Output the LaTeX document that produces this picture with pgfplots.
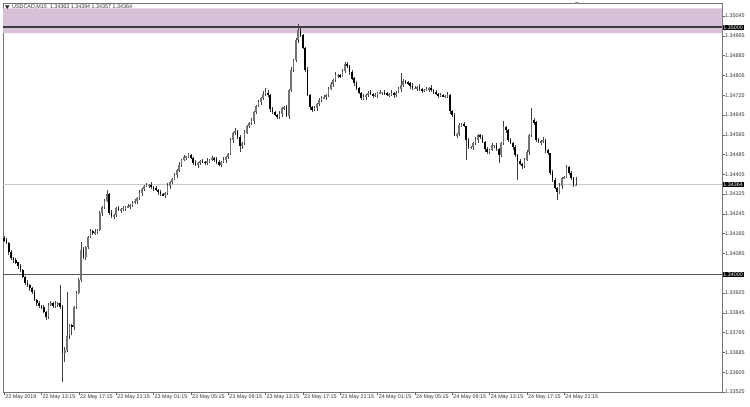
\documentclass[border=0pt]{standalone}
\usepackage{pgfplots}
\pgfplotsset{compat=1.18}
\usepackage{pgfplotstable}
\usepackage{fontspec}
\setmainfont{Liberation Sans}
\definecolor{zone}{RGB}{217,192,217}
\definecolor{lvl}{RGB}{60,60,60}
\definecolor{cur}{RGB}{200,200,200}
\pgfplotstableread{
x o h l c
0 1.34150 1.34155 1.34131 1.34139
1 1.34139 1.34148 1.34123 1.34127
2 1.34127 1.34131 1.34081 1.34091
3 1.34091 1.34102 1.34061 1.34067
4 1.34067 1.34073 1.34050 1.34059
5 1.34059 1.34067 1.34045 1.34050
6 1.34050 1.34053 1.34022 1.34034
7 1.34034 1.34044 1.34011 1.34018
8 1.34018 1.34025 1.33986 1.33990
9 1.33990 1.33995 1.33957 1.33966
10 1.33966 1.33978 1.33951 1.33957
11 1.33957 1.33963 1.33934 1.33945
12 1.33945 1.33950 1.33921 1.33929
13 1.33929 1.33938 1.33893 1.33897
14 1.33897 1.33901 1.33875 1.33885
15 1.33885 1.33896 1.33867 1.33873
16 1.33873 1.33879 1.33860 1.33869
17 1.33869 1.33877 1.33843 1.33848
18 1.33848 1.33851 1.33816 1.33828
19 1.33828 1.33887 1.33821 1.33877
20 1.33877 1.33892 1.33873 1.33885
21 1.33885 1.33890 1.33864 1.33873
22 1.33873 1.33893 1.33867 1.33881
23 1.33881 1.33891 1.33870 1.33885
24 1.33885 1.33957 1.33861 1.33869
25 1.33869 1.33878 1.33565 1.33683
26 1.33683 1.33706 1.33646 1.33695
27 1.33695 1.33929 1.33686 1.33751
28 1.33751 1.33800 1.33741 1.33796
29 1.33796 1.33801 1.33755 1.33788
30 1.33788 1.33872 1.33776 1.33869
31 1.33869 1.33935 1.33862 1.33925
32 1.33925 1.33985 1.33921 1.33978
33 1.33978 1.34131 1.33969 1.34099
34 1.34099 1.34111 1.34065 1.34071
35 1.34071 1.34117 1.34060 1.34111
36 1.34111 1.34157 1.34103 1.34152
37 1.34152 1.34185 1.34148 1.34176
38 1.34176 1.34180 1.34158 1.34168
39 1.34168 1.34183 1.34162 1.34172
40 1.34172 1.34186 1.34163 1.34180
41 1.34180 1.34257 1.34175 1.34249
42 1.34249 1.34276 1.34237 1.34273
43 1.34273 1.34307 1.34266 1.34297
44 1.34297 1.34342 1.34293 1.34325
45 1.34325 1.34330 1.34240 1.34249
46 1.34249 1.34261 1.34230 1.34236
47 1.34236 1.34246 1.34225 1.34240
48 1.34240 1.34274 1.34232 1.34269
49 1.34269 1.34278 1.34257 1.34261
50 1.34261 1.34269 1.34251 1.34265
51 1.34265 1.34280 1.34259 1.34269
52 1.34269 1.34279 1.34260 1.34273
53 1.34273 1.34285 1.34268 1.34277
54 1.34277 1.34284 1.34265 1.34281
55 1.34281 1.34299 1.34274 1.34289
56 1.34289 1.34304 1.34285 1.34297
57 1.34297 1.34314 1.34288 1.34309
58 1.34309 1.34341 1.34303 1.34329
59 1.34329 1.34352 1.34318 1.34346
60 1.34346 1.34363 1.34338 1.34358
61 1.34358 1.34371 1.34354 1.34362
62 1.34362 1.34366 1.34352 1.34362
63 1.34362 1.34373 1.34348 1.34354
64 1.34354 1.34360 1.34341 1.34350
65 1.34350 1.34358 1.34337 1.34342
66 1.34342 1.34345 1.34321 1.34333
67 1.34333 1.34343 1.34318 1.34325
68 1.34325 1.34332 1.34317 1.34321
69 1.34321 1.34334 1.34312 1.34329
70 1.34329 1.34370 1.34323 1.34358
71 1.34358 1.34380 1.34347 1.34374
72 1.34374 1.34391 1.34366 1.34386
73 1.34386 1.34411 1.34382 1.34402
74 1.34402 1.34426 1.34392 1.34422
75 1.34422 1.34454 1.34416 1.34443
76 1.34443 1.34469 1.34434 1.34463
77 1.34463 1.34483 1.34458 1.34475
78 1.34475 1.34482 1.34463 1.34479
79 1.34479 1.34493 1.34472 1.34483
80 1.34483 1.34490 1.34467 1.34471
81 1.34471 1.34476 1.34442 1.34451
82 1.34451 1.34463 1.34437 1.34443
83 1.34443 1.34457 1.34432 1.34451
84 1.34451 1.34464 1.34443 1.34459
85 1.34459 1.34468 1.34451 1.34455
86 1.34455 1.34459 1.34441 1.34451
87 1.34451 1.34470 1.34445 1.34459
88 1.34459 1.34469 1.34450 1.34463
89 1.34463 1.34479 1.34458 1.34471
90 1.34471 1.34474 1.34455 1.34467
91 1.34467 1.34477 1.34448 1.34455
92 1.34455 1.34462 1.34439 1.34443
93 1.34443 1.34460 1.34434 1.34455
94 1.34455 1.34475 1.34449 1.34463
95 1.34463 1.34481 1.34452 1.34475
96 1.34475 1.34492 1.34467 1.34487
97 1.34487 1.34553 1.34483 1.34544
98 1.34544 1.34576 1.34534 1.34572
99 1.34572 1.34591 1.34566 1.34580
100 1.34580 1.34586 1.34547 1.34556
101 1.34556 1.34564 1.34495 1.34519
102 1.34519 1.34535 1.34507 1.34532
103 1.34532 1.34582 1.34525 1.34572
104 1.34572 1.34607 1.34568 1.34600
105 1.34600 1.34617 1.34591 1.34612
106 1.34612 1.34633 1.34606 1.34621
107 1.34621 1.34663 1.34610 1.34657
108 1.34657 1.34686 1.34649 1.34681
109 1.34681 1.34706 1.34677 1.34697
110 1.34697 1.34718 1.34687 1.34714
111 1.34714 1.34741 1.34708 1.34730
112 1.34730 1.34753 1.34721 1.34738
113 1.34738 1.34746 1.34721 1.34726
114 1.34726 1.34729 1.34657 1.34669
115 1.34669 1.34679 1.34650 1.34657
116 1.34657 1.34664 1.34641 1.34645
117 1.34645 1.34650 1.34628 1.34637
118 1.34637 1.34661 1.34631 1.34649
119 1.34649 1.34679 1.34638 1.34673
120 1.34673 1.34682 1.34665 1.34677
121 1.34677 1.34686 1.34637 1.34641
122 1.34641 1.34750 1.34631 1.34746
123 1.34746 1.34838 1.34740 1.34827
124 1.34827 1.34873 1.34818 1.34867
125 1.34867 1.34956 1.34862 1.34948
126 1.34948 1.35015 1.34936 1.34988
127 1.34988 1.34998 1.34961 1.34968
128 1.34968 1.34975 1.34912 1.34916
129 1.34916 1.34921 1.34818 1.34827
130 1.34827 1.34839 1.34720 1.34726
131 1.34726 1.34732 1.34666 1.34677
132 1.34677 1.34682 1.34657 1.34665
133 1.34665 1.34682 1.34661 1.34673
134 1.34673 1.34693 1.34663 1.34689
135 1.34689 1.34716 1.34683 1.34705
136 1.34705 1.34720 1.34696 1.34714
137 1.34714 1.34726 1.34709 1.34718
138 1.34718 1.34729 1.34706 1.34726
139 1.34726 1.34760 1.34719 1.34750
140 1.34750 1.34777 1.34746 1.34770
141 1.34770 1.34791 1.34761 1.34786
142 1.34786 1.34818 1.34780 1.34806
143 1.34806 1.34812 1.34795 1.34806
144 1.34806 1.34811 1.34794 1.34802
145 1.34802 1.34832 1.34798 1.34823
146 1.34823 1.34859 1.34813 1.34851
147 1.34851 1.34862 1.34837 1.34843
148 1.34843 1.34849 1.34810 1.34819
149 1.34819 1.34827 1.34789 1.34794
150 1.34794 1.34797 1.34762 1.34774
151 1.34774 1.34784 1.34747 1.34754
152 1.34754 1.34761 1.34730 1.34734
153 1.34734 1.34739 1.34705 1.34714
154 1.34714 1.34730 1.34708 1.34718
155 1.34718 1.34732 1.34707 1.34726
156 1.34726 1.34743 1.34718 1.34738
157 1.34738 1.34747 1.34726 1.34730
158 1.34730 1.34734 1.34716 1.34726
159 1.34726 1.34737 1.34720 1.34726
160 1.34726 1.34740 1.34717 1.34734
161 1.34734 1.34746 1.34729 1.34738
162 1.34738 1.34741 1.34726 1.34738
163 1.34738 1.34748 1.34727 1.34734
164 1.34734 1.34741 1.34722 1.34726
165 1.34726 1.34735 1.34717 1.34730
166 1.34730 1.34746 1.34724 1.34734
167 1.34734 1.34740 1.34715 1.34726
168 1.34726 1.34743 1.34718 1.34738
169 1.34738 1.34759 1.34734 1.34750
170 1.34750 1.34815 1.34740 1.34766
171 1.34766 1.34793 1.34760 1.34782
172 1.34782 1.34788 1.34769 1.34778
173 1.34778 1.34786 1.34769 1.34774
174 1.34774 1.34777 1.34750 1.34762
175 1.34762 1.34772 1.34747 1.34754
176 1.34754 1.34761 1.34750 1.34754
177 1.34754 1.34763 1.34745 1.34758
178 1.34758 1.34770 1.34744 1.34750
179 1.34750 1.34756 1.34735 1.34746
180 1.34746 1.34751 1.34738 1.34746
181 1.34746 1.34759 1.34742 1.34750
182 1.34750 1.34758 1.34740 1.34754
183 1.34754 1.34765 1.34740 1.34746
184 1.34746 1.34752 1.34729 1.34738
185 1.34738 1.34746 1.34725 1.34730
186 1.34730 1.34733 1.34714 1.34726
187 1.34726 1.34736 1.34719 1.34726
188 1.34726 1.34733 1.34718 1.34722
189 1.34722 1.34727 1.34713 1.34722
190 1.34722 1.34738 1.34716 1.34726
191 1.34726 1.34732 1.34650 1.34661
192 1.34661 1.34666 1.34637 1.34645
193 1.34645 1.34654 1.34560 1.34564
194 1.34564 1.34572 1.34554 1.34568
195 1.34568 1.34615 1.34562 1.34604
196 1.34604 1.34614 1.34595 1.34608
197 1.34608 1.34616 1.34595 1.34600
198 1.34600 1.34603 1.34463 1.34544
199 1.34544 1.34554 1.34508 1.34515
200 1.34515 1.34522 1.34511 1.34515
201 1.34515 1.34537 1.34506 1.34532
202 1.34532 1.34556 1.34526 1.34544
203 1.34544 1.34570 1.34533 1.34564
204 1.34564 1.34569 1.34548 1.34556
205 1.34556 1.34565 1.34532 1.34536
206 1.34536 1.34540 1.34497 1.34507
207 1.34507 1.34518 1.34489 1.34495
208 1.34495 1.34509 1.34486 1.34503
209 1.34503 1.34531 1.34498 1.34523
210 1.34523 1.34526 1.34511 1.34523
211 1.34523 1.34533 1.34500 1.34507
212 1.34507 1.34514 1.34451 1.34483
213 1.34483 1.34537 1.34474 1.34532
214 1.34532 1.34620 1.34526 1.34596
215 1.34596 1.34602 1.34573 1.34584
216 1.34584 1.34589 1.34536 1.34544
217 1.34544 1.34553 1.34528 1.34532
218 1.34532 1.34536 1.34505 1.34515
219 1.34515 1.34526 1.34477 1.34483
220 1.34483 1.34489 1.34382 1.34459
221 1.34459 1.34467 1.34442 1.34447
222 1.34447 1.34450 1.34427 1.34439
223 1.34439 1.34473 1.34432 1.34463
224 1.34463 1.34502 1.34459 1.34495
225 1.34495 1.34569 1.34486 1.34564
226 1.34564 1.34673 1.34558 1.34625
227 1.34625 1.34631 1.34605 1.34616
228 1.34616 1.34621 1.34536 1.34544
229 1.34544 1.34553 1.34532 1.34536
230 1.34536 1.34544 1.34526 1.34540
231 1.34540 1.34555 1.34534 1.34544
232 1.34544 1.34550 1.34494 1.34503
233 1.34503 1.34511 1.34486 1.34491
234 1.34491 1.34494 1.34402 1.34414
235 1.34414 1.34424 1.34375 1.34382
236 1.34382 1.34389 1.34346 1.34350
237 1.34350 1.34355 1.34301 1.34333
238 1.34333 1.34370 1.34327 1.34358
239 1.34358 1.34396 1.34347 1.34390
240 1.34390 1.34399 1.34386 1.34394
241 1.34394 1.34444 1.34390 1.34435
242 1.34435 1.34439 1.34400 1.34410
243 1.34410 1.34421 1.34384 1.34390
244 1.34390 1.34396 1.34355 1.34363
245 1.34363 1.34394 1.34357 1.34364
}\candles
\begin{document}
\begin{tikzpicture}[x=1bp,y=1bp]
\useasboundingbox (0,0) rectangle (750,406);
\fill[white] (0,0) rectangle (750,406);
\begin{axis}[
  at={(3bp,13.3bp)}, anchor=south west,
  scale only axis, width=719bp, height=389.7bp,
  xmin=-0.5, xmax=307.6, ymin=1.33522, ymax=1.35098,
  clip mode=individual,
  axis line style={black!55, line width=0.7bp},
  tick align=outside, major tick length=2.5bp,
  tick style={black!60, line width=0.5bp},
  xtick pos=bottom, ytick pos=right,
  yticklabel pos=right,
  font=\fontsize{5.4}{6}\selectfont,
  xtick={0,16,...,240},
  xticklabels={22 May 2019,22 May 13:15,22 May 17:15,22 May 21:15,23 May 01:15,23 May 05:15,23 May 09:15,23 May 13:15,23 May 17:15,23 May 21:15,24 May 01:15,24 May 05:15,24 May 09:15,24 May 13:15,24 May 17:15,24 May 21:15},
  xticklabel style={anchor=north west, inner sep=0pt, xshift=1bp, yshift=0.5bp, text=black!80},
  ytick={1.33525,1.33605,1.33685,1.33765,1.33845,1.33925,1.34085,1.34165,1.34245,1.34325,1.34405,1.34485,1.34565,1.34645,1.34725,1.34805,1.34885,1.34965,1.35045},
  yticklabels={1.33525,1.33605,1.33685,1.33765,1.33845,1.33925,1.34085,1.34165,1.34245,1.34325,1.34405,1.34485,1.34565,1.34645,1.34725,1.34805,1.34885,1.34965,1.35045},
  yticklabel style={anchor=west, inner sep=0pt, xshift=0.5bp, text=black!80},
]
% resistance zone
\addplot[draw=none, fill=zone, forget plot] coordinates {(-0.5,1.34976) (307.6,1.34976) (307.6,1.35076) (-0.5,1.35076) (-0.5,1.34976)};
% levels
\addplot[lvl, line width=2bp, forget plot] coordinates {(-0.5,1.35) (307.6,1.35)};
\addplot[black!65, line width=1.2bp, forget plot] coordinates {(-0.5,1.34) (307.6,1.34)};
\addplot[cur, line width=0.7bp, forget plot] coordinates {(-0.5,1.34364) (307.6,1.34364)};
% wicks
\addplot[draw=none, mark=none, forget plot,
  error bars/.cd, y dir=both, y explicit, error mark=none,
  error bar style={line width=0.7bp, draw=black!75}]
  table[x=x, y expr={(\thisrow{h}+\thisrow{l})/2}, y error expr={(\thisrow{h}-\thisrow{l})/2}] {\candles};
% bull bodies
\addplot[draw=none, mark=none, forget plot,
  restrict expr to domain={\thisrow{c}-\thisrow{o}}{0:1},
  error bars/.cd, y dir=both, y explicit, error mark=none,
  error bar style={line width=1.8bp, draw=black!55}]
  table[x=x, y expr={(\thisrow{o}+\thisrow{c})/2}, y error expr={max(abs(\thisrow{c}-\thisrow{o})/2,0.000006)}] {\candles};
% bear bodies
\addplot[draw=none, mark=none, forget plot,
  restrict expr to domain={\thisrow{c}-\thisrow{o}}{-1:-0.0000001},
  error bars/.cd, y dir=both, y explicit, error mark=none,
  error bar style={line width=1.8bp, draw=black}]
  table[x=x, y expr={(\thisrow{o}+\thisrow{c})/2}, y error expr={max(abs(\thisrow{c}-\thisrow{o})/2,0.000006)}] {\candles};
% price labels on the scale
\node[fill=black, text=white, anchor=west, inner sep=0.7bp, xshift=0.5bp] at (axis cs:307.6,1.35) {1.35000};
\node[fill=black, text=white, anchor=west, inner sep=0.7bp, xshift=0.5bp] at (axis cs:307.6,1.34364) {1.34364};
\node[fill=black, text=white, anchor=west, inner sep=0.7bp, xshift=0.5bp] at (axis cs:307.6,1.34) {1.34000};
\node[anchor=west, inner sep=0pt, text=black!80] at (rel axis cs:0,1) [xshift=9bp, yshift=-4.4bp] {USDCAD,M15\ \ 1.34363 1.34394 1.34357 1.34364};
\end{axis}
\fill[black!85] (5,400.5) -- (9.5,400.5) -- (7.25,397) -- cycle;
\fill[black!40] (575,404) -- (579,404) -- (577,401.5) -- cycle;
\end{tikzpicture}
\end{document}
